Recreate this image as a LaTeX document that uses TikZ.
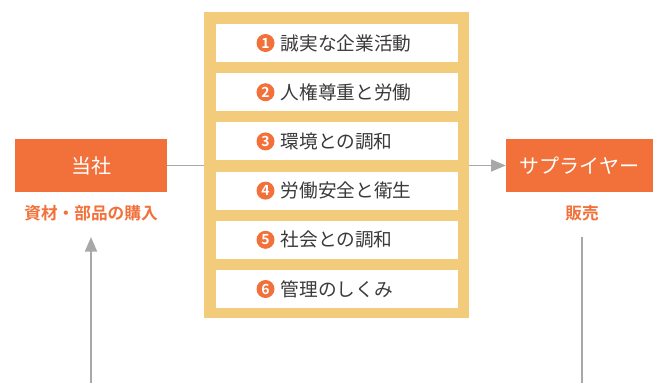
\documentclass[tikz,border=0pt]{standalone}
\usepackage{fontspec}
\setmainfont{Noto Sans CJK JP}[BoldFont={Noto Sans CJK JP Bold}]
\usetikzlibrary{arrows.meta}
\definecolor{orng}{HTML}{F2703A}
\definecolor{yel}{HTML}{F2CB7B}
\definecolor{lgray}{HTML}{A8A8A8}
\definecolor{txt}{HTML}{3A3A3A}
\tikzset{
  orangebox/.style={fill=orng, draw=none, text=white, inner sep=0pt, minimum height=39.75pt, font=\fontsize{15pt}{18pt}\selectfont},
  itembox/.style={fill=white, draw=none, inner sep=0pt, minimum width=181.5pt, minimum height=28.5pt},
  itemtext/.style={anchor=west, inner sep=0pt, text=txt, font=\fontsize{14pt}{16pt}\selectfont},
  numcirc/.style={circle, fill=orng, text=white, inner sep=0pt, minimum size=13.5pt, font=\fontsize{10.5pt}{11pt}\selectfont\bfseries},
  sublabel/.style={text=orng, inner sep=0pt, font=\fontsize{12.5pt}{15pt}\selectfont\bfseries},
  conn/.style={draw=lgray, line width=1.1pt},
  vconn/.style={draw=lgray, line width=1.5pt},
  tip/.style={-{Triangle[length=11pt,width=9pt]}}
}
\begin{document}
\begin{tikzpicture}[x=0.75pt,y=-0.75pt]
\useasboundingbox (0,0) rectangle (653,383);
% frame
\node[fill=yel, draw=none, inner sep=0pt, minimum width=198.75pt, minimum height=229.5pt] (frame) at (336.5,165) {};
% item boxes
\foreach \i/\t in {1/誠実な企業活動,2/人権尊重と労働,3/環境との調和,4/労働安全と衛生,5/社会との調和,6/管理のしくみ}{
  \pgfmathsetmacro{\yy}{43+49.2*(\i-1)}
  \node[itembox] (box\i) at (337,\yy) {};
  \node[numcirc] (num\i) at (265.5,\yy) {\i};
  \node[itemtext] (txt\i) at (280.5,\yy) {\t};
}
% company boxes
\node[orangebox, minimum width=114pt] (tosha) at (91,165.5) {当社};
\node[orangebox, minimum width=110.25pt] (supp) at (579.5,165.5) {サプライヤー};
\node[sublabel] (lab1) at (91,213) {資材・部品の購入};
\node[sublabel] (lab2) at (582,213) {販売};
% connectors
\draw[conn] (tosha.east) -- (tosha.east -| frame.west);
\draw[conn, tip] (supp.west -| frame.east) -- (supp.west);
\coordinate (b1) at (91,383);
\coordinate (t1) at (91,237);
\coordinate (b2) at (582,383);
\coordinate (t2) at (582,237);
\draw[vconn, tip] (b1) -- (t1);
\draw[vconn] (b2) -- (t2);
\end{tikzpicture}
\end{document}
